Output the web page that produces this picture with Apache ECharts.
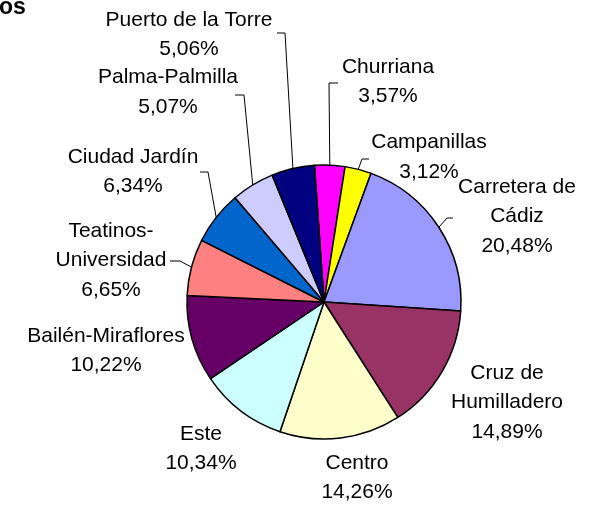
<!DOCTYPE html>
<html>
<head>
<meta charset="utf-8">
<script src="https://cdn.jsdelivr.net/npm/echarts@6/dist/echarts.min.js"></script>
<style>
  html,body{margin:0;padding:0;background:#fff;}
  #main{width:590px;height:507px;}
</style>
</head>
<body>
<div id="main"></div>
<script>
// districts, clockwise from the top
let districts=['Churriana','Campanillas','Carretera de Cádiz','Cruz de Humilladero','Centro','Este','Bailén-Miraflores','Teatinos-Universidad','Ciudad Jardín','Palma-Palmilla','Puerto de la Torre'];
let shares=[3.57,3.12,20.48,14.89,14.26,10.34,10.22,6.65,6.34,5.07,5.06];
// how the names wrap in the labels
let labelText=['Churriana','Campanillas','Carretera de\nCádiz','Cruz de\nHumilladero','Centro','Este','Bailén-Miraflores','Teatinos-\nUniversidad','Ciudad Jardín','Palma-Palmilla','Puerto de la Torre'];
let colors=['#ff00ff','#ffff00','#9999ff','#993366','#ffffcc','#ccffff','#660066','#ff8080','#0066cc','#ccccff','#000080'];

// label placement (center x, first line middle) and leader elbows
let labelPos=[[388,67],[429,142.5],[517,187],[507,373],[357,463],[201,434],[106,336],[111,231],[133,157],[168,77.5],[189,20]];
let leaders=[[[329,83],[338,83]],[[362,159],[369,159]],[[447,218],[453,218]],null,null,null,null,[[180,261],[170,261]],[[208,172],[200,172]],[[244,95],[235,95]],[[285,33],[277,33]]];

let lineH=29.5;

var myChart=echarts.init(document.getElementById('main'));

var data=districts.map(function(n,i){
	let item={name:n,value:shares[i],itemStyle:{color:colors[i]}};
	if(!leaders[i]) item.labelLine={show:false};
	return item;
});

var option={
	animation:false,
	graphic:[{
		type:'text',
		left:-1,
		top:-4,
		style:{text:'os',font:'bold 23px "Liberation Sans", Arial, sans-serif',fill:'#000'}
	}],
	series:[{
		type:'pie',
		center:[324,302],
		radius:137,
		startAngle:94,
		clockwise:true,
		avoidLabelOverlap:false,
		itemStyle:{borderColor:'#000',borderWidth:1.5},
		label:{
			show:true,
			position:'outside',
			fontFamily:'"Liberation Sans", Arial, sans-serif',
			fontSize:21,
			lineHeight:lineH,
			color:'#000',
			align:'center',
			formatter:function(p){
				return labelText[p.dataIndex]+'\n'+p.value.toFixed(2).replace('.',',')+'%';
			}
		},
		labelLine:{show:true,smooth:false,lineStyle:{color:'#000',width:1}},
		labelLayout:function(params){
			let i=params.dataIndex;
			let p=labelPos[i];
			let out={x:p[0],y:p[1]-lineH/2,align:'center',verticalAlign:'top'};
			if(leaders[i]&&params.labelLinePoints){
				out.labelLinePoints=[params.labelLinePoints[0],leaders[i][0],leaders[i][1]];
			}
			return out;
		},
		emphasis:{disabled:true},
		data:data
	}]
};

myChart.setOption(option);
</script>
</body>
</html>
